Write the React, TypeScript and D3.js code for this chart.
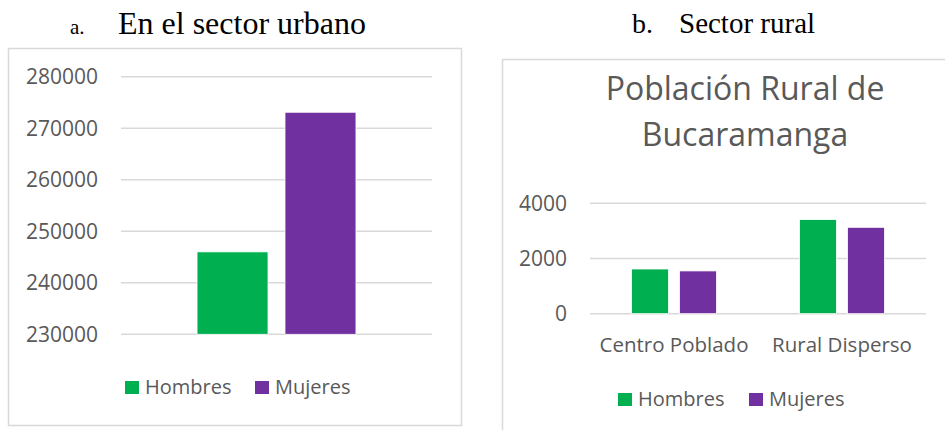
import React from "react";
import * as d3 from "d3";

const seriesNames = ["Hombres", "Mujeres"];
const seriesColors = ["#00B050", "#7030A0"];

const urbanCategories = [""];
const urbanHombres = [246000];
const urbanMujeres = [273100];
const urbanTicks = [230000, 240000, 250000, 260000, 270000, 280000];

const ruralCategories = ["Centro Poblado", "Rural Disperso"];
const ruralHombres = [1620, 3410];
const ruralMujeres = [1550, 3130];
const ruralTicks = [0, 2000, 4000];

const FONT = "'Open Sans', 'Noto Sans', sans-serif";
const SERIF = "'Liberation Serif', 'DejaVu Serif', serif";
const GRAY = "#595959";
const GRID = "#D9D9D9";

function Bars({ categories, values, x, xInner, y, base }) {
  return (
    <g>
      {categories.map((c, i) =>
        values.map((vals, s) => {
          const x0 = (x(c) as number) + (xInner(String(s)) as number);
          const yTop = y(vals[i]);
          return (
            <rect
              key={c + s}
              x={x0}
              y={yTop}
              width={xInner.bandwidth()}
              height={y(base) - yTop}
              fill={seriesColors[s]}
              stroke="#fff"
              strokeWidth={0.8}
            />
          );
        })
      )}
    </g>
  );
}

function Legend({ x0, x1, y }) {
  const xs = [x0, x1];
  return (
    <g>
      {seriesNames.map((n, i) => (
        <g key={n}>
          <rect x={xs[i]} y={y - 13} width={14} height={13} fill={seriesColors[i]} />
          <text x={xs[i] + 20} y={y} fontFamily={FONT} fontSize={20} fill={GRAY}>
            {n}
          </text>
        </g>
      ))}
    </g>
  );
}

export default function App() {
  // Left chart
  const yL = d3.scaleLinear().domain([230000, 280000]).range([334.3, 76.7]);
  const xL = d3.scaleBand().domain(urbanCategories).range([121, 432]).paddingInner(0.489).paddingOuter(0.2445);
  const xLi = d3.scaleBand().domain(["0", "1"]).range([0, xL.bandwidth()]).paddingInner(0.193);

  // Right chart
  const yR = d3.scaleLinear().domain([0, 4000]).range([313.7, 203.3]);
  const xR = d3.scaleBand().domain(ruralCategories).range([590, 926]).paddingInner(0.494).paddingOuter(0.247);
  const xRi = d3.scaleBand().domain(["0", "1"]).range([0, xR.bandwidth()]).paddingInner(0.229);

  return (
    <div style={{ position: "fixed", left: 0, top: 0 }}>
      <svg width={945} height={430} style={{ display: "block", background: "#fff" }}>
        {/* Left header */}
        <text x={70} y={34} fontFamily={SERIF} fontSize={21} fill="#000">a.</text>
        <text x={118} y={34} fontFamily={SERIF} fontSize={32} fill="#000">En el sector urbano</text>
        <rect x={8.5} y={48.5} width={453} height={377} fill="none" stroke={GRID} strokeWidth={1.5} />
        {urbanTicks.map((t) => (
          <g key={t}>
            <line x1={121} x2={432} y1={yL(t)} y2={yL(t)} stroke={GRID} strokeWidth={1.5} />
            <text x={98} y={yL(t) + 7.5} textAnchor="end" fontFamily={FONT} fontSize={21} fill={GRAY}>
              {t}
            </text>
          </g>
        ))}
        <Bars categories={urbanCategories} values={[urbanHombres, urbanMujeres]} x={xL} xInner={xLi} y={yL} base={230000} />
        <Legend x0={125} x1={255} y={394} />

        {/* Right header */}
        <text x={632} y={33} fontFamily={SERIF} fontSize={28} fill="#000">b.</text>
        <text x={679} y={33} fontFamily={SERIF} fontSize={29} fill="#000">Sector rural</text>
        <path d="M502.5,430 V59.5 H945" fill="none" stroke={GRID} strokeWidth={1.5} />
        <text x={745} y={100} textAnchor="middle" fontFamily={FONT} fontSize={32} fill={GRAY}>Población Rural de</text>
        <text x={745} y={146} textAnchor="middle" fontFamily={FONT} fontSize={32} fill={GRAY}>Bucaramanga</text>
        {ruralTicks.map((t) => (
          <g key={t}>
            <line x1={590} x2={926} y1={yR(t)} y2={yR(t)} stroke={GRID} strokeWidth={1.5} />
            <text x={567} y={yR(t) + 7.5} textAnchor="end" fontFamily={FONT} fontSize={21} fill={GRAY}>
              {t}
            </text>
          </g>
        ))}
        <Bars categories={ruralCategories} values={[ruralHombres, ruralMujeres]} x={xR} xInner={xRi} y={yR} base={0} />
        {ruralCategories.map((c) => (
          <text
            key={c}
            x={(xR(c) as number) + xR.bandwidth() / 2}
            y={352}
            textAnchor="middle"
            fontFamily={FONT}
            fontSize={20.5}
            fill={GRAY}
          >
            {c}
          </text>
        ))}
        <Legend x0={618} x1={749} y={406} />
      </svg>
    </div>
  );
}
